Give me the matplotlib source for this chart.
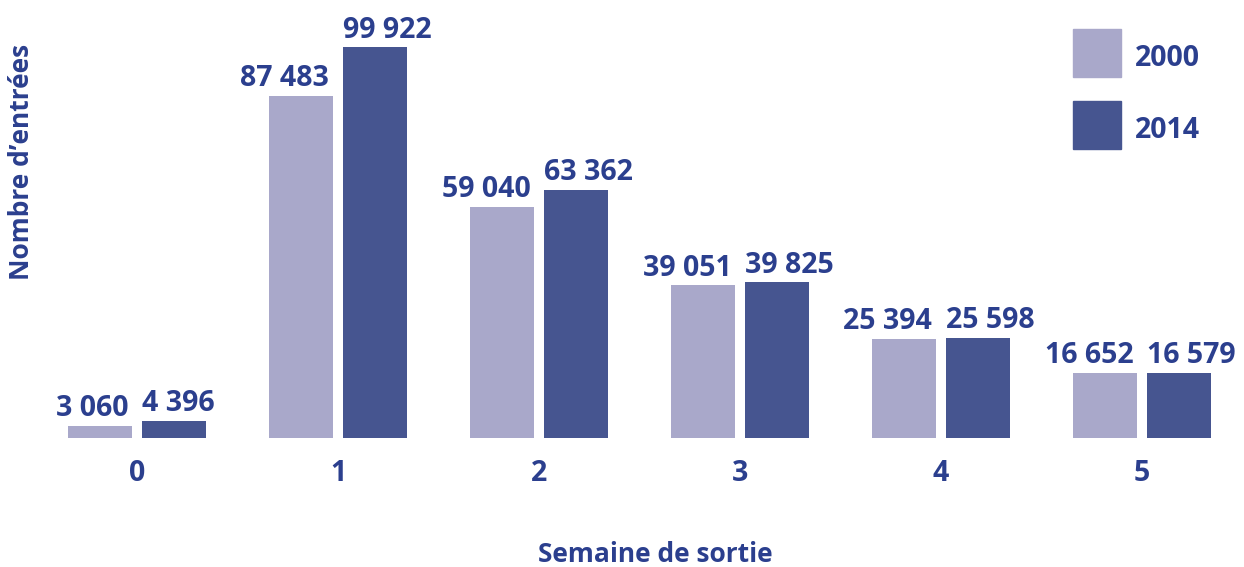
import matplotlib
matplotlib.use("Agg")
import matplotlib.pyplot as plt
from matplotlib.patches import Rectangle
import numpy as np

weeks = ["0", "1", "2", "3", "4", "5"]
entries_2000 = [3060, 87483, 59040, 39051, 25394, 16652]
entries_2014 = [4396, 99922, 63362, 39825, 25598, 16579]
series_names = ["2000", "2014"]

TXT = "#2b3f8e"
C2000 = "#a9a8ca"
C2014 = "#465590"

plt.rcParams['font.family'] = ['Open Sans', 'DejaVu Sans']
plt.rcParams['font.weight'] = 'bold'

W, H = 1244, 567
fig = plt.figure(figsize=(W / 100, H / 100), dpi=100)
base_px = 438
ax = fig.add_axes([0, (H - base_px) / H, 1, base_px / H])

x = np.arange(len(weeks))
bw = 0.323
off = 0.184
b1 = ax.bar(x - off, entries_2000, bw, color=C2000, label=series_names[0])
b2 = ax.bar(x + off, entries_2014, bw, color=C2014, label=series_names[1])

ax.set_xlim(-137 / 201, (W - 137) / 201)
ax.set_ylim(0, 112000)


def fmt(v):
    return f"{v:,}".replace(",", " ")


FS = 20.5
FT = 19
for rect, v in zip(b1, entries_2000):
    ax.annotate(fmt(v), (rect.get_x() + rect.get_width(), v),
                xytext=(-3, 7), textcoords="offset points",
                ha="right", va="baseline", fontsize=FS, fontweight="bold", color=TXT)
for rect, v in zip(b2, entries_2014):
    ax.annotate(fmt(v), (rect.get_x(), v),
                xytext=(0, 7), textcoords="offset points",
                ha="left", va="baseline", fontsize=FS, fontweight="bold", color=TXT)

ax.set_xticks(x)
ax.set_xticklabels(weeks, fontsize=FS, fontweight="bold", color=TXT)
ax.tick_params(axis="x", length=0, pad=15)
ax.set_yticks([])
for s in ax.spines.values():
    s.set_visible(False)

fig.text(655 / W, 1 - 555 / H, "Semaine de sortie", ha="center", va="center",
         fontsize=FT, fontweight="bold", color=TXT)
fig.text(22 / W, 1 - 162 / H, "Nombre d\u2019entrées", ha="center", va="center",
         rotation=90, fontsize=FT, fontweight="bold", color=TXT)

# legend drawn as figure patches
for (ytop, col, name) in [(29, C2000, series_names[0]), (101, C2014, series_names[1])]:
    fig.patches.append(Rectangle((1073 / W, 1 - (ytop + 48) / H), 48 / W, 48 / H,
                                 transform=fig.transFigure, color=col, figure=fig))
    fig.text(1135 / W, 1 - (ytop + 29) / H, name, ha="left", va="center",
             fontsize=FS, fontweight="bold", color=TXT)

fig.savefig("out.png", dpi=100)
